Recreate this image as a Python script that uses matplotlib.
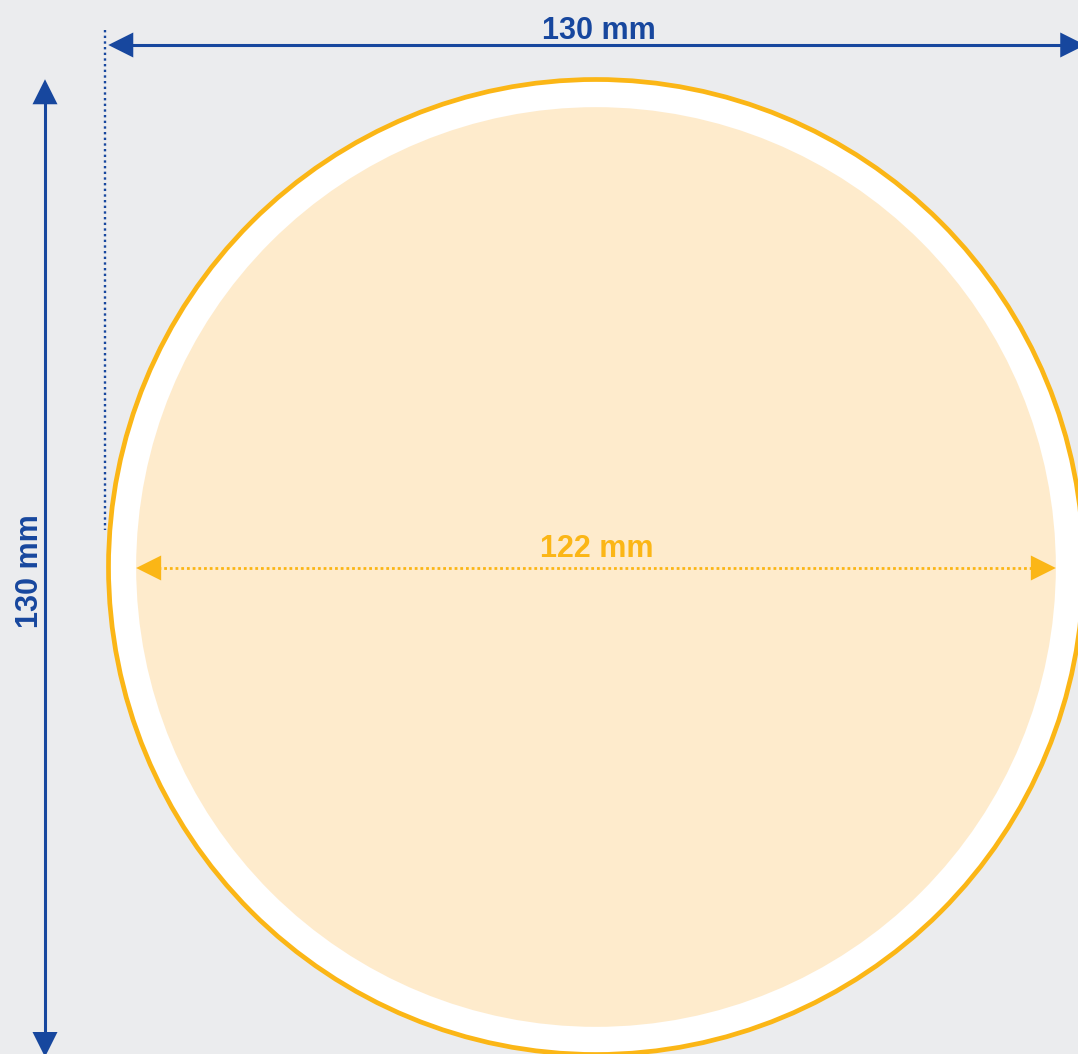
import matplotlib
matplotlib.use("Agg")
import matplotlib.pyplot as plt
from matplotlib.patches import Circle, FancyArrowPatch

# ---- data ----
outer_diameter_mm = 130
inner_diameter_mm = 122
outer_label = "130 mm"
inner_label = "122 mm"

# ---- style ----
BG = "#EBECEE"
BLUE = "#17479E"
YELLOW = "#FBB616"
CREAM = "#FEEBCC"
W, H = 1078, 1054
DPI = 100
S = 490 / 65.0          # px per mm
CX, CY = 596, 567       # circle centre in px

plt.rcParams['font.family'] = ['Liberation Sans', 'DejaVu Sans']

fig = plt.figure(figsize=(W / DPI, H / DPI), dpi=DPI, facecolor=BG)
ax = fig.add_axes([0, 0, 1, 1])
ax.set_facecolor(BG)
ax.set_xlim(-CX / S, (W - CX) / S)
ax.set_ylim(-(H - CY) / S, CY / S)
ax.set_aspect('equal')
ax.axis('off')

Ro = outer_diameter_mm / 2
Ri = inner_diameter_mm / 2

def px2mm_x(px):
    return (px - CX) / S

def px2mm_y(py):
    return (CY - py) / S

# circles
ax.add_patch(Circle((0, 0), Ro - 2.5 / S, facecolor='white', edgecolor=YELLOW,
                    linewidth=3.4, zorder=1))
ax.add_patch(Circle((0, 0), Ri, facecolor=CREAM, edgecolor='none', zorder=2))

def arrow(p0, p1, color, ls='-', lw=2.2):
    a = FancyArrowPatch(p0, p1, arrowstyle='<|-|>,head_length=18,head_width=9',
                        mutation_scale=1, color=color, linewidth=lw,
                        linestyle=ls, shrinkA=0, shrinkB=0, zorder=5)
    ax.add_patch(a)

# top horizontal dimension
ytop = px2mm_y(45)
ax.plot([-Ro + 20 / S, Ro - 20 / S], [ytop, ytop], color=BLUE, lw=2.2, zorder=4,
        solid_capstyle='butt')
arrow((-Ro + 0.3, ytop), (Ro - 0.1, ytop), BLUE, lw=0)
ax.text(px2mm_x(599), px2mm_y(39), outer_label, color=BLUE, fontsize=22,
        fontweight='bold', ha='center', va='baseline', zorder=6)

# left vertical dimension
xl = px2mm_x(45)
ax.plot([xl, xl], [Ro - 20 / S, -Ro + 20 / S], color=BLUE, lw=2.2, zorder=4,
        solid_capstyle='butt')
arrow((xl, Ro - 0.3), (xl, -Ro), BLUE, lw=0)
ax.text(px2mm_x(38), px2mm_y(571), outer_label, color=BLUE, fontsize=22,
        fontweight='bold', ha='center', va='baseline', rotation=90,
        rotation_mode='anchor', zorder=6)

# dotted reference line
xd = px2mm_x(105)
ax.plot([xd, xd], [px2mm_y(30), px2mm_y(530)], color=BLUE, lw=1.7,
        linestyle=(0, (1, 1.4)), zorder=4)

# inner diameter dimension
yi = px2mm_y(568)
ax.plot([-Ri + 22 / S, Ri - 22 / S], [yi, yi], color=YELLOW, lw=2.0,
        linestyle=(0, (1, 1.05)), zorder=4)
arrow((-Ri, yi), (Ri, yi), YELLOW, lw=0)
ax.text(px2mm_x(597), px2mm_y(557), inner_label, color=YELLOW, fontsize=22,
        fontweight='bold', ha='center', va='baseline', zorder=6)

fig.savefig("out.png", dpi=DPI, facecolor=BG)
